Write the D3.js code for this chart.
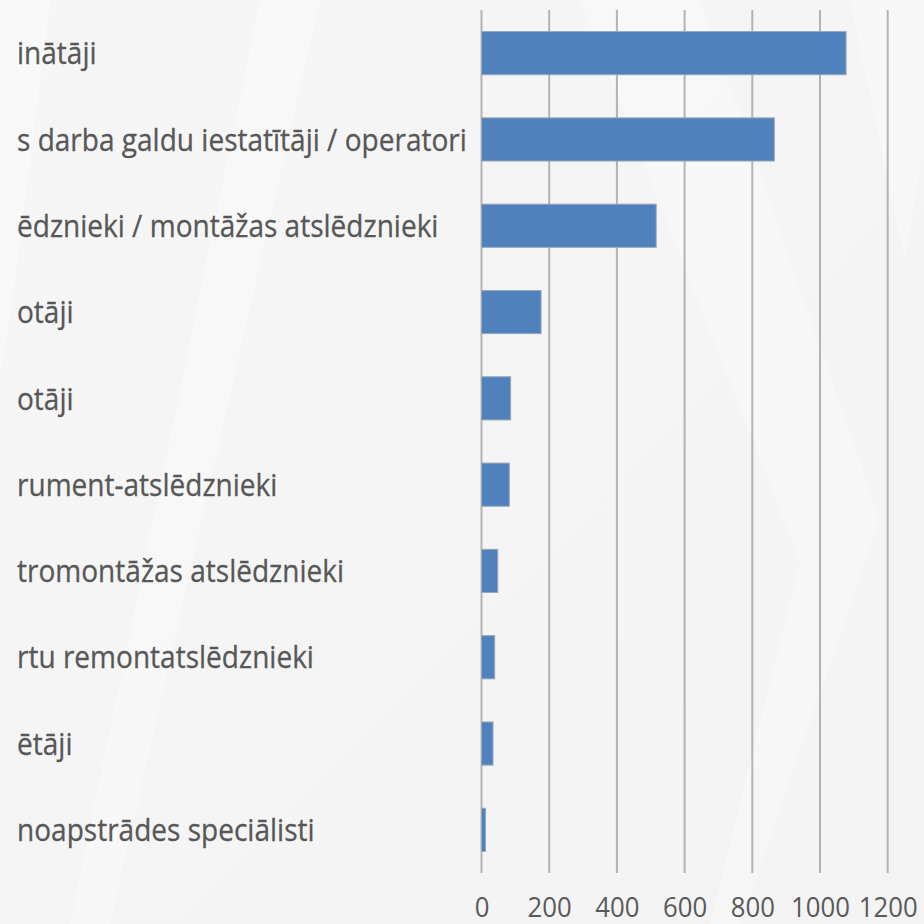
<!DOCTYPE html>
<html>
<head>
<meta charset="utf-8">
<script src="https://cdn.jsdelivr.net/npm/d3@7"></script>
<style>
  html, body { margin: 0; padding: 0; background: #f4f4f4; }
  svg { display: block; }
</style>
</head>
<body>
<div id="chart"></div>
<script>
// Visible (cropped) category labels, top to bottom
const categories = [
    'inātāji',
    's darba galdu iestatītāji / operatori',
    'ēdznieki / montāžas atslēdznieki',
    'otāji',
    'otāji',
    'rument-atslēdznieki',
    'tromontāžas atslēdznieki',
    'rtu remontatslēdznieki',
    'ētāji',
    'noapstrādes speciālisti'
];
const values = [1077, 865, 516, 176, 86, 82, 48, 39, 34, 12];
const xTicks = [0, 200, 400, 600, 800, 1000, 1200];

const W = 924, H = 924;
const plot = { left: 481.5, right: 887.7, top: 10, bottom: 873 };
const labelX = 17;

const svg = d3.select('#chart').append('svg')
    .attr('width', W)
    .attr('height', H);

// Background: light grey with soft white streaks
const defs = svg.append('defs');
const bg = defs.append('linearGradient')
    .attr('id', 'bg')
    .attr('x1', 0).attr('y1', 0).attr('x2', 1).attr('y2', 1);
bg.append('stop').attr('offset', '0%').attr('stop-color', '#f6f6f6');
bg.append('stop').attr('offset', '100%').attr('stop-color', '#f3f3f3');

svg.append('rect')
    .attr('width', W).attr('height', H)
    .attr('fill', 'url(#bg)');

const streaks = [
    [[0, 0], [50, 0], [15, 280], [0, 380]],
    [[580, 0], [700, 0], [880, 520], [740, 924], [710, 924], [800, 560]],
    [[850, 0], [924, 0], [924, 140], [905, 260]],
    [[260, 0], [320, 0], [110, 924], [70, 924]]
];
svg.append('g').selectAll('polygon')
    .data(streaks)
    .join('polygon')
    .attr('points', d => d.map(p => p.join(',')).join(' '))
    .attr('fill', '#ffffff')
    .attr('opacity', 0.3);

// Scales
const x = d3.scaleLinear()
    .domain([0, 1200])
    .range([plot.left, plot.right]);

const y = d3.scaleBand()
    .domain(d3.range(categories.length))
    .range([plot.top, plot.bottom])
    .paddingInner(0.5)
    .paddingOuter(0.25);

// Vertical gridlines (incl. the zero axis)
svg.append('g')
    .attr('class', 'grid')
    .selectAll('line')
    .data(xTicks)
    .join('line')
    .attr('x1', d => x(d))
    .attr('x2', d => x(d))
    .attr('y1', plot.top)
    .attr('y2', plot.bottom)
    .style('stroke', '#b3b3b3')
    .style('stroke-width', 2);

// Bars
svg.append('g')
    .selectAll('rect')
    .data(values)
    .join('rect')
    .attr('x', x(0))
    .attr('y', (d, i) => y(i))
    .attr('width', d => x(d) - x(0))
    .attr('height', y.bandwidth())
    .style('fill', '#4f81bd')
    .style('stroke', '#9aa6b8')
    .style('stroke-width', 1);

// X axis tick labels
const xAxis = d3.axisBottom(x)
    .tickValues(xTicks)
    .tickSize(0)
    .tickPadding(0)
    .tickFormat(d3.format('d'));

const axisG = svg.append('g')
    .attr('class', 'x-axis')
    .attr('transform', `translate(0,${plot.bottom})`)
    .call(xAxis);

axisG.select('.domain').remove();
axisG.selectAll('text')
    .attr('y', 34)
    .attr('dy', '0.35em')
    .attr('transform', 'scale(0.92,1)')
    .style('font-family', '"Open Sans", sans-serif')
    .style('font-size', '28px')
    .style('fill', '#595959');

// Category labels, left-aligned and clipped at the left edge
defs.append('clipPath')
    .attr('id', 'labelClip')
    .append('rect')
    .attr('x', labelX)
    .attr('y', 0)
    .attr('width', plot.left - labelX - 6)
    .attr('height', H);

const labelsG = svg.append('g')
    .attr('clip-path', 'url(#labelClip)')
    .append('g');

const labels = labelsG.selectAll('text')
    .data(categories)
    .join('text')
    .attr('x', 0)
    .attr('y', (d, i) => y(i) + y.bandwidth() / 2)
    .attr('dy', '0.36em')
    .style('font-family', '"Open Sans", sans-serif')
    .style('font-size', '31px')
    .style('fill', '#575757')
    .style('stroke', '#575757')
    .style('stroke-width', 0.3)
    .text(d => d);

// The source text is condensed; squeeze to the measured width
const longest = d3.max(labels.nodes(), n => n.getComputedTextLength());
const sx = 450 / longest;
labelsG.attr('transform', `translate(${labelX},0) scale(${sx},1)`);
</script>
</body>
</html>
